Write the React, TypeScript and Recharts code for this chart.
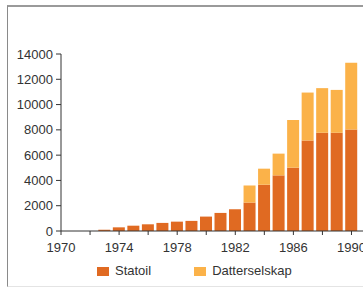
import { BarChart, Bar, XAxis, YAxis } from 'recharts';

const years = [1973, 1974, 1975, 1976, 1977, 1978, 1979, 1980, 1981, 1982, 1983, 1984, 1985, 1986, 1987, 1988, 1989, 1990];
const statoil = [100, 290, 420, 530, 640, 740, 800, 1140, 1430, 1720, 2250, 3660, 4400, 5010, 7160, 7770, 7770, 8030];
const datterselskap = [0, 0, 0, 0, 0, 0, 0, 0, 0, 0, 1350, 1270, 1720, 3770, 3790, 3530, 3390, 5280];
const yTicks = [0, 2000, 4000, 6000, 8000, 10000, 12000, 14000];
const xTicks = [1970, 1972, 1974, 1976, 1978, 1980, 1982, 1984, 1986, 1988, 1990];
const seriesNames = ['Statoil', 'Datterselskap'];
const colors = ['#e06a22', '#fbb249'];

const data = years.map((y, i) => ({ year: y, statoil: statoil[i], datter: datterselskap[i] }));

const font = '"Liberation Sans", Arial, sans-serif';

export default function App() {
  return (
    <div style={{ position: 'fixed', left: 0, top: 0, width: 363, height: 287, overflow: 'hidden', background: '#fff', fontFamily: font }}>
      <div style={{ position: 'absolute', left: 7, top: 5, width: 400, height: 279, borderLeft: '1px solid #8a8a8a', borderTop: '2px solid #9a9a9a', borderBottom: '1px solid #e4e4e4' }} />
      <div style={{ position: 'absolute', left: 0, top: 0 }}>
        <BarChart width={370} height={287} data={data} margin={{ top: 54, right: 4, left: 0, bottom: 26 }} barSize={12}>
          <XAxis dataKey="year" type="number" domain={[1970, 1991]} ticks={xTicks} allowDataOverflow
            tickFormatter={(v) => (v % 4 === 2 ? String(v) : '')}
            tickSize={4} tickMargin={8} height={30}
            stroke="#333" tick={{ fill: '#333', fontSize: 13, fontFamily: font }} />
          <YAxis domain={[0, 14000]} ticks={yTicks} width={61} interval={0}
            tickSize={5} tickMargin={3}
            stroke="#333" tick={{ fill: '#333', fontSize: 13, fontFamily: font }} />
          <Bar dataKey="statoil" stackId="a" fill={colors[0]} isAnimationActive={false} />
          <Bar dataKey="datter" stackId="a" fill={colors[1]} isAnimationActive={false} />
        </BarChart>
      </div>
      <div style={{ position: 'absolute', top: 263, left: 97, display: 'flex', fontSize: 13, color: '#333', lineHeight: '16px' }}>
        {seriesNames.map((n, i) => (
          <div key={n} style={{ display: 'flex', alignItems: 'center', marginRight: i === 0 ? 43 : 0 }}>
            <span style={{ display: 'inline-block', width: 12, height: 9, background: colors[i], marginRight: 6 }} />
            {n}
          </div>
        ))}
      </div>
    </div>
  );
}
